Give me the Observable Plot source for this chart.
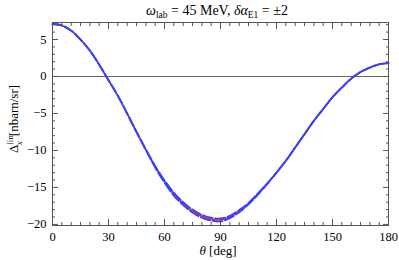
<!DOCTYPE html>
<html>
<head>
<meta charset="utf-8">
<script src="https://cdn.jsdelivr.net/npm/d3@7"></script>
<script src="https://cdn.jsdelivr.net/npm/@observablehq/plot@0.6"></script>
<style>
  body { margin: 0; background: #fff; }
</style>
</head>
<body>
<div id="chart"></div>
<script>
const theta = [0,5,10,15,20,25,30,35,40,45,50,55,60,65,70,75,80,85,90,95,100,105,110,115,120,125,130,135,140,145,150,155,160,165,170,175,180];
const central = [7.1,6.9,6.2,5.0,3.5,1.6,-0.5,-2.6,-5.0,-7.5,-9.9,-12.2,-14.2,-15.9,-17.2,-18.2,-18.9,-19.3,-19.4,-19.0,-18.2,-17.2,-15.9,-14.5,-13.0,-11.4,-9.6,-7.8,-6.0,-4.4,-2.8,-1.5,-0.3,0.6,1.2,1.65,1.8];
const bluePlus = [7.1,6.9,6.2,5.0,3.5,1.6,-0.5,-2.6,-5.0,-7.45,-9.85,-12.1,-14.05,-15.7,-17.0,-18.0,-18.7,-19.1,-19.2,-18.85,-18.05,-17.1,-15.8,-14.45,-13.0,-11.4,-9.6,-7.8,-6.0,-4.4,-2.8,-1.5,-0.3,0.6,1.2,1.65,1.8];
const blueMinus = [7.1,6.9,6.2,5.0,3.5,1.6,-0.5,-2.6,-5.05,-7.55,-9.95,-12.3,-14.35,-16.1,-17.4,-18.4,-19.1,-19.5,-19.6,-19.15,-18.35,-17.3,-16.0,-14.55,-13.0,-11.4,-9.6,-7.8,-6.0,-4.4,-2.8,-1.5,-0.3,0.6,1.2,1.65,1.8];
const xMajor = [0,30,60,90,120,150,180];
const xMinor = d3.range(0, 181, 5).filter(d => d % 30 !== 0);
const yMajor = [-20,-15,-10,-5,0,5];
const yMinor = d3.range(-20, 8, 1).filter(d => d % 5 !== 0);

const redData = theta.map((t, i) => ({t, v: central[i]}));
const plusData = theta.map((t, i) => ({t, v: bluePlus[i]}));
const minusData = theta.map((t, i) => ({t, v: blueMinus[i]}));

const serif = "'Liberation Serif', 'Times New Roman', 'DejaVu Serif', serif";
const frameColor = "#555";
const tickOpts = {stroke: frameColor, tickFormat: () => "", label: null};

const chart = Plot.plot({
  width: 399,
  height: 260,
  marginLeft: 52,
  marginRight: 11,
  marginTop: 22,
  marginBottom: 35,
  style: `font-family: ${serif}; font-size: 12px; color: #000; background: #fff;`,
  x: {domain: [0, 180]},
  y: {domain: [-20.15, 7.3]},
  marks: [
    Plot.ruleY([0], {stroke: "#666", strokeWidth: 1}),
    Plot.line(redData, {x: "t", y: "v", stroke: "#ff1a1a", strokeWidth: 1.6, curve: "catmull-rom"}),
    Plot.line(plusData, {x: "t", y: "v", stroke: "#3344ff", strokeWidth: 1.8, strokeDasharray: "10,2.5", curve: "catmull-rom"}),
    Plot.line(minusData, {x: "t", y: "v", stroke: "#3344ff", strokeWidth: 1.8, strokeDasharray: "10,2.5", curve: "catmull-rom"}),
    Plot.frame({stroke: frameColor}),
    Plot.axisX(xMajor, {anchor: "bottom", tickSize: 0, tickPadding: 7, fontSize: 12.5, label: null, fill: "#000"}),
    Plot.axisY(yMajor, {anchor: "left", tickSize: 0, tickPadding: 6, fontSize: 12.5, label: null, fill: "#000", tickFormat: d => d < 0 ? "\u2212" + Math.abs(d) : String(d)}),
    Plot.axisX(xMajor, {anchor: "bottom", tickSize: -6, ...tickOpts}),
    Plot.axisX(xMinor, {anchor: "bottom", tickSize: -3, ...tickOpts}),
    Plot.axisX(xMajor, {anchor: "top", tickSize: -6, ...tickOpts}),
    Plot.axisX(xMinor, {anchor: "top", tickSize: -3, ...tickOpts}),
    Plot.axisY(yMajor, {anchor: "left", tickSize: -6, ...tickOpts}),
    Plot.axisY(yMinor, {anchor: "left", tickSize: -3, ...tickOpts}),
    Plot.axisY(yMajor, {anchor: "right", tickSize: -6, ...tickOpts}),
    Plot.axisY(yMinor, {anchor: "right", tickSize: -3, ...tickOpts})
  ]
});

document.getElementById("chart").appendChild(chart);

const svg = d3.select(chart);
svg.attr("font-family", serif);

const title = svg.append("text")
  .attr("x", 217).attr("y", 15)
  .attr("text-anchor", "middle")
  .attr("font-size", 14)
  .attr("font-family", serif)
  .attr("fill", "#000");
title.append("tspan").attr("font-style", "italic").text("\u03c9");
title.append("tspan").attr("font-size", 9.5).attr("dy", 3).text("lab");
title.append("tspan").attr("dy", -3).text(" = 45 MeV, ");
title.append("tspan").attr("font-style", "italic").text("\u03b4\u03b1");
title.append("tspan").attr("font-size", 9.5).attr("dy", 3).text("E1");
title.append("tspan").attr("dy", -3).text(" = \u00b12");

const xl = svg.append("text")
  .attr("x", 218).attr("y", 255)
  .attr("text-anchor", "middle")
  .attr("font-size", 13)
  .attr("font-family", serif)
  .attr("fill", "#000");
xl.append("tspan").attr("font-style", "italic").text("\u03b8");
xl.append("tspan").text(" [deg]");

const yl = svg.append("text")
  .attr("transform", "translate(18,119) rotate(-90)")
  .attr("text-anchor", "middle")
  .attr("font-size", 13)
  .attr("font-family", serif)
  .attr("fill", "#000");
yl.append("tspan").text("\u0394");
yl.append("tspan").attr("font-size", 9).attr("dy", -5).text("lin");
yl.append("tspan").attr("font-size", 9).attr("dy", 9).attr("dx", -10).attr("font-style", "italic").text("x");
yl.append("tspan").attr("dy", -4).attr("dx", 5).text("[nbarn/sr]");
svg.selectAll("text, tspan").style("font-family", serif);
</script>
</body>
</html>
